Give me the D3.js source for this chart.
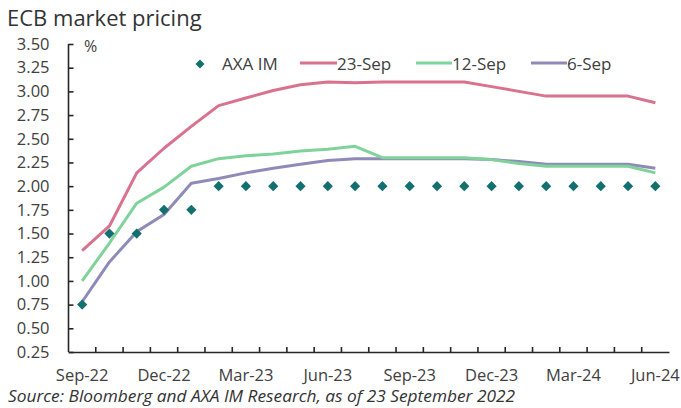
<!DOCTYPE html>
<html><head><meta charset="utf-8">
<script src="https://cdn.jsdelivr.net/npm/d3@7"></script>
<style>
body{margin:0;background:#fff;}
svg{display:block;}
text{font-family:"Open Sans",sans-serif;}
</style></head>
<body><svg id="c" width="681" height="408"></svg>
<script>
const months = ["Sep-22","Oct-22","Nov-22","Dec-22","Jan-23","Feb-23","Mar-23","Apr-23","May-23","Jun-23","Jul-23","Aug-23","Sep-23","Oct-23","Nov-23","Dec-23","Jan-24","Feb-24","Mar-24","Apr-24","May-24","Jun-24"];
const axaIM = [0.75,1.50,1.50,1.75,1.75,2.00,2.00,2.00,2.00,2.00,2.00,2.00,2.00,2.00,2.00,2.00,2.00,2.00,2.00,2.00,2.00,2.00];
const sep23 = [1.32,1.58,2.14,2.40,2.63,2.85,2.93,3.01,3.07,3.10,3.09,3.10,3.10,3.10,3.10,3.05,3.00,2.95,2.95,2.95,2.95,2.88];
const sep12 = [1.00,1.40,1.82,1.99,2.21,2.29,2.32,2.34,2.37,2.39,2.42,2.30,2.30,2.30,2.30,2.28,2.24,2.21,2.21,2.21,2.21,2.14];
const sep6  = [0.78,1.20,1.52,1.70,2.03,2.08,2.14,2.19,2.23,2.27,2.29,2.29,2.29,2.29,2.29,2.28,2.26,2.23,2.23,2.23,2.23,2.19];
const yTicks = [0.25,0.50,0.75,1.00,1.25,1.50,1.75,2.00,2.25,2.50,2.75,3.00,3.25,3.50];
const xLabels = ["Sep-22","Dec-22","Mar-23","Jun-23","Sep-23","Dec-23","Mar-24","Jun-24"];
const seriesNames = ["AXA IM","23-Sep","12-Sep","6-Sep"];
const colors = {"AXA IM":"#13706f","23-Sep":"#d9728f","12-Sep":"#7fd39a","6-Sep":"#8e8bb8"};

const svg = d3.select("#c");
const L = 68.5, R = 669, T = 44, B = 352;
const x = d3.scaleBand().domain(months).range([L, R]).padding(0);
const y = d3.scaleLinear().domain([0.25, 3.5]).range([B, T]);
const cx = m => x(m) + x.bandwidth()/2;
const axisCol = "#262626", textCol = "#404040";

// Title
svg.append("text").attr("x", 7).attr("y", 26).attr("font-size", 22).attr("fill", "#333").text("ECB market pricing");

// Y axis
const ya = svg.append("g").attr("transform", `translate(${L},0)`)
  .call(d3.axisLeft(y).tickValues(yTicks).tickSize(-5).tickPadding(19).tickFormat(d3.format(".2f")));
ya.select(".domain").attr("stroke", axisCol).attr("stroke-width", 1.6).attr("d", `M0,${T}V${B}`);
ya.selectAll(".tick line").attr("stroke", axisCol).attr("stroke-width", 1.6);
ya.selectAll(".tick text").attr("font-size", 16.5).attr("fill", textCol).attr("font-family", "Open Sans");

svg.append("text").attr("x", 84).attr("y", 52).attr("font-size", 16).attr("fill", textCol).text("%");

// X axis
const xa = svg.append("g").attr("transform", `translate(0,${B})`)
  .call(d3.axisBottom(x).tickValues(xLabels).tickSize(0).tickPadding(17));
xa.select(".domain").attr("stroke", axisCol).attr("stroke-width", 1.6);
xa.selectAll(".tick text").attr("font-size", 16.5).attr("fill", textCol).attr("font-family", "Open Sans");
svg.append("g").selectAll("line").data(months.slice(1)).join("line")
  .attr("x1", d => x(d)).attr("x2", d => x(d)).attr("y1", B).attr("y2", B - 5)
  .attr("stroke", axisCol).attr("stroke-width", 1.6);

// Lines
const line = d3.line().x((d,i) => cx(months[i])).y(d => y(d));
[["6-Sep", sep6],["12-Sep", sep12],["23-Sep", sep23]].forEach(([n, vals]) => {
  svg.append("path").datum(vals).attr("d", line).attr("fill", "none")
    .attr("stroke", colors[n]).attr("stroke-width", 3).attr("stroke-linejoin", "round");
});

// Diamonds
const sq = d3.symbol().type(d3.symbolSquare).size(52);
svg.append("g").selectAll("path").data(axaIM).join("path")
  .attr("d", sq).attr("fill", colors["AXA IM"])
  .attr("transform", (d,i) => `translate(${cx(months[i])},${y(d)}) rotate(45)`);

// Legend
const lg = svg.append("g");
lg.append("path").attr("d", d3.symbol().type(d3.symbolSquare).size(40))
  .attr("fill", colors["AXA IM"]).attr("transform", "translate(200,64) rotate(45)");
lg.append("text").attr("x", 222).attr("y", 70).attr("font-size", 17).attr("fill", textCol).text("AXA IM");
const legItems = [["23-Sep", 300, 337],["12-Sep", 416, 452],["6-Sep", 531, 567]];
legItems.forEach(([n, x1, x2]) => {
  lg.append("line").attr("x1", x1).attr("x2", x2).attr("y1", 63).attr("y2", 63)
    .attr("stroke", colors[n]).attr("stroke-width", 3);
  lg.append("text").attr("x", x2).attr("y", 70).attr("font-size", 17).attr("fill", textCol).text(n);
});

// Source
svg.append("text").attr("x", 8).attr("y", 402).attr("font-size", 15.5).attr("font-style", "italic")
  .attr("fill", "#333").attr("textLength", 507).attr("lengthAdjust", "spacingAndGlyphs")
  .text("Source: Bloomberg and AXA IM Research, as of 23 September 2022");
</script></body></html>
